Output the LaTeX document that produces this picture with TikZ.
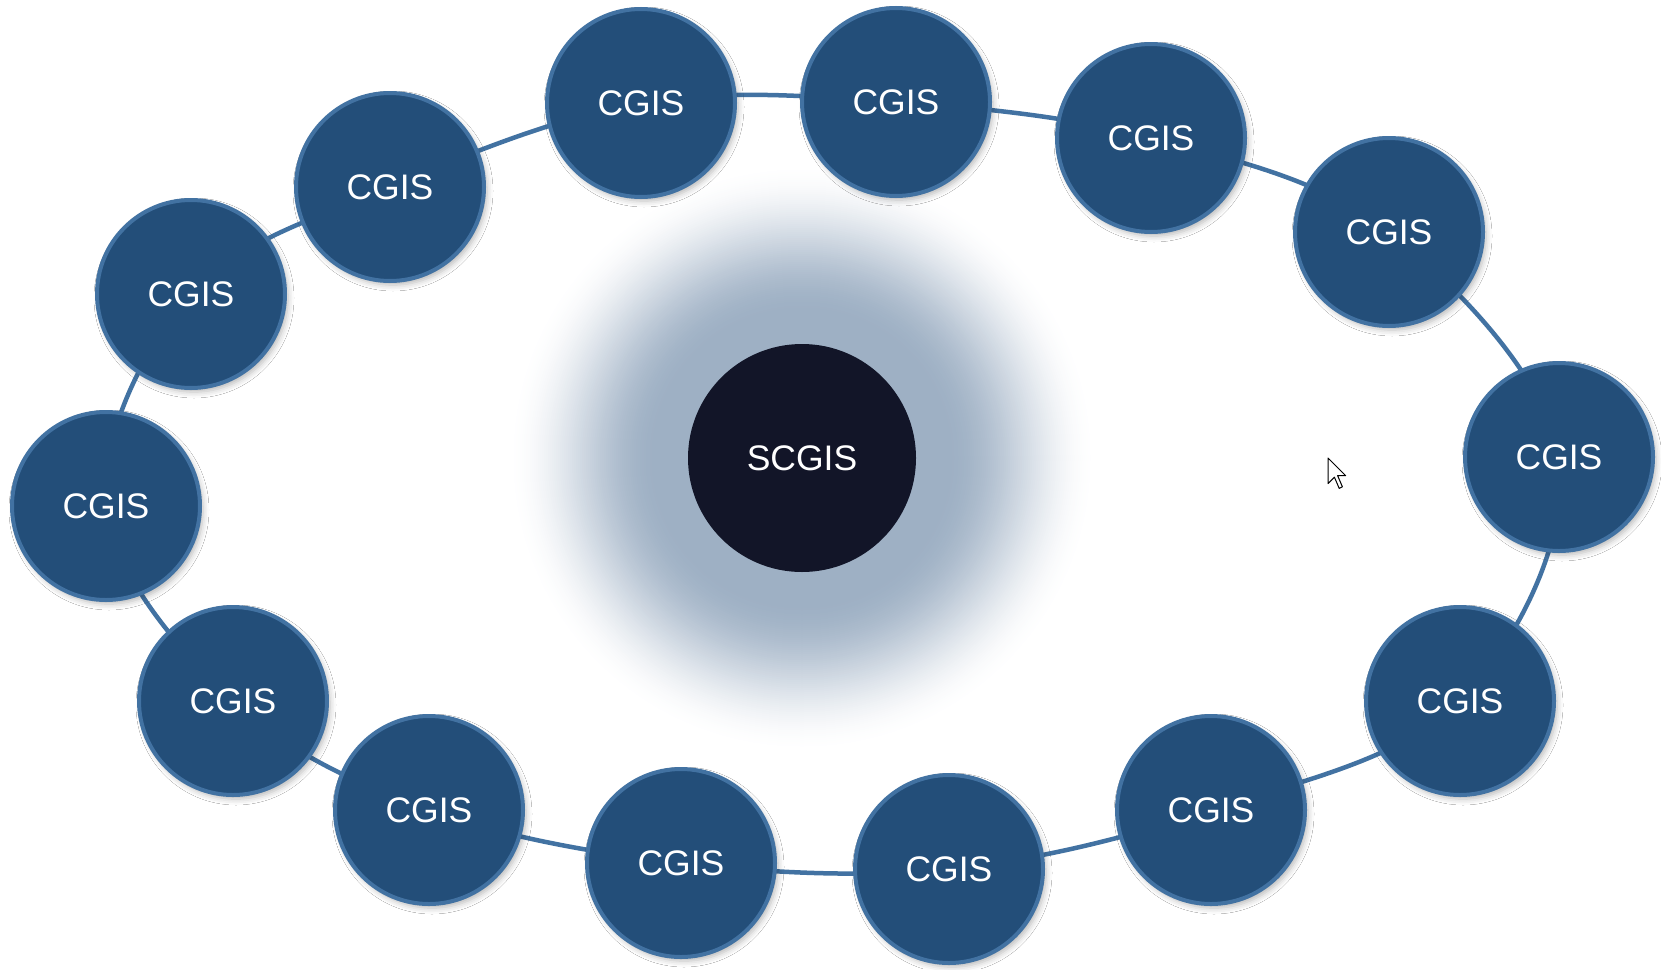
\documentclass[tikz,border=0pt]{standalone}
\usepackage{fontspec}
\setmainfont{Liberation Sans}
\usetikzlibrary{shadows.blur}
\definecolor{nodefill}{RGB}{35,78,121}
\definecolor{nodeborder}{RGB}{66,114,162}
\definecolor{ringline}{RGB}{66,114,162}
\definecolor{corefill}{RGB}{18,21,40}
\definecolor{glowc}{RGB}{158,176,196}
\pgfdeclarelayer{glowlayer}
\pgfdeclarelayer{ringlayer}
\pgfsetlayers{glowlayer,ringlayer,main}
\tikzset{
  cgis/.style={circle, fill=nodefill, draw=nodeborder, line width=4pt,
    minimum size=188pt, inner sep=0pt, text=white,
    font=\fontsize{35.5}{40}\selectfont,
    blur shadow={shadow xshift=3pt, shadow yshift=-4pt, shadow blur radius=6pt, shadow opacity=28}},
  core/.style={circle, fill=corefill, minimum size=228pt, inner sep=0pt,
    text=white, font=\fontsize{35.5}{40}\selectfont},
  ring/.style={draw=ringline, line width=4.5pt},
  cursorshape/.style={draw=black, fill=white, line width=1pt, line join=round}
}
\begin{document}
\begin{tikzpicture}[x=1pt,y=-1pt]
\useasboundingbox (0,0) rectangle (1661,969);
\node[core] (s) at (802,458) {SCGIS};
\node[cgis] (c1) at (641,103) {CGIS};
\node[cgis] (c2) at (896,102) {CGIS};
\node[cgis] (c3) at (1151,138) {CGIS};
\node[cgis] (c4) at (1389,232) {CGIS};
\node[cgis] (c5) at (1559,457) {CGIS};
\node[cgis] (c6) at (1460,701) {CGIS};
\node[cgis] (c7) at (1211,810) {CGIS};
\node[cgis] (c8) at (949,869) {CGIS};
\node[cgis] (c9) at (681,863) {CGIS};
\node[cgis] (c10) at (429,810) {CGIS};
\node[cgis] (c11) at (233,701) {CGIS};
\node[cgis] (c12) at (106,506) {CGIS};
\node[cgis] (c13) at (191,294) {CGIS};
\node[cgis] (c14) at (390,187) {CGIS};
\begin{pgfonlayer}{glowlayer}
  \fill[white] (0,0) rectangle (1661,969);
  \foreach \r in {300,298,...,150} {
    \pgfmathsetmacro\tt{max(0,min(1,(295-\r)/150))}
    \pgfmathsetmacro\ff{100*\tt*\tt*(3-2*\tt)}
    \fill[glowc!\ff!white] (s.center) circle[radius=\r pt];
  }
  \fill[glowc] (s.center) circle[radius=150pt];
\end{pgfonlayer}
\begin{pgfonlayer}{ringlayer}
  \draw[ring] plot[smooth cycle, tension=0.6] coordinates {(c1.center) (c2.center) (c3.center) (c4.center) (c5.center) (c6.center) (c7.center) (c8.center) (c9.center) (c10.center) (c11.center) (c12.center) (c13.center) (c14.center)};
\end{pgfonlayer}
\coordinate (tip) at (1328,458);
\draw[cursorshape] (tip) -- ++(0,25.6) -- ++(6.4,-6.4) -- ++(4.8,11.2) -- ++(3.2,-1.6) -- ++(-4.8,-11.2) -- ++(8,0) -- cycle;
\end{tikzpicture}
\end{document}
